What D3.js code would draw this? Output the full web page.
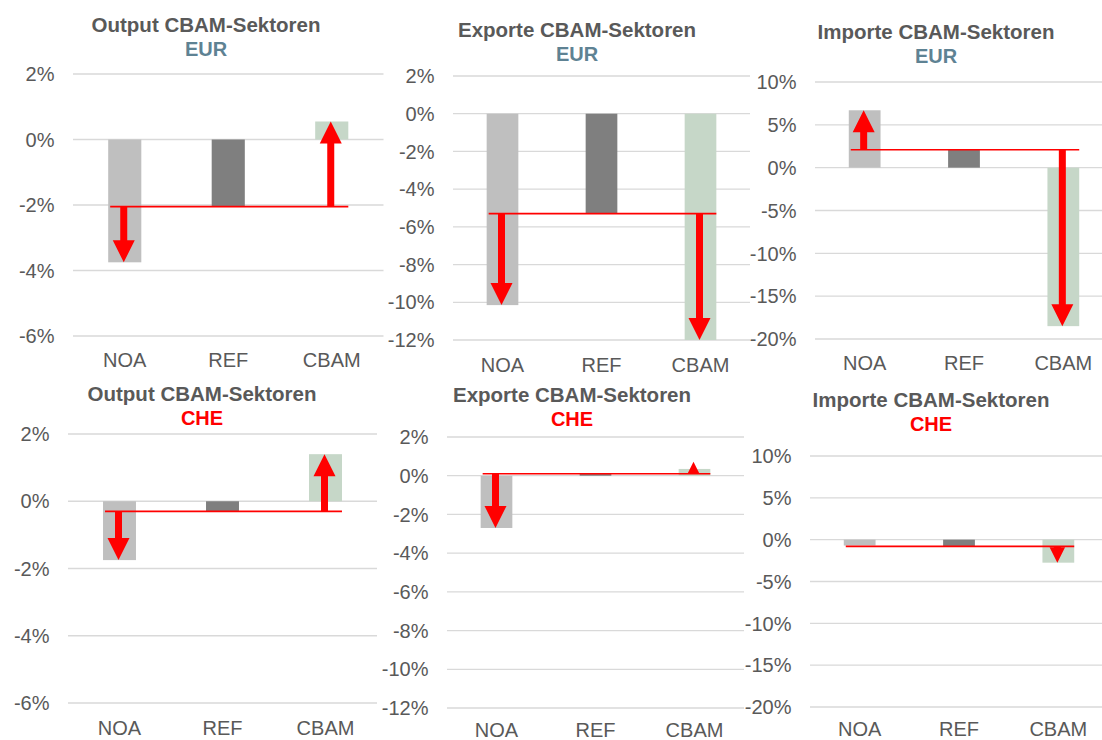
<!doctype html>
<html lang="de">
<head>
<meta charset="utf-8">
<style>
	body{margin:0;background:#fff;}
	svg{display:block;font-family:"Liberation Sans",Arial,sans-serif;}
</style>
</head>
<body>

<div id="grafico"></div>

<script src="https://d3js.org/d3.v7.min.js"></script>

<script>

// datos (en %)

var categorias = ["NOA", "REF", "CBAM"];

var outputEUR = [-3.75, -2.05, 0.55];
var exporteEUR = [-10.15, -5.3, -12.0];
var importeEUR = [6.7, 2.1, -18.5];

var outputCHE = [-1.75, -0.3, 1.4];
var exporteCHE = [-2.7, 0.1, 0.35];
var importeCHE = [-0.7, -0.8, -2.75];

var ticksOutput = [2, 0, -2, -4, -6];
var ticksExporte = [2, 0, -2, -4, -6, -8, -10, -12];
var ticksImporte = [10, 5, 0, -5, -10, -15, -20];

var titulos = ["Output CBAM-Sektoren", "Exporte CBAM-Sektoren", "Importe CBAM-Sektoren"];
var regiones = ["EUR", "CHE"];

var colorBarra = d3.scaleOrdinal().domain(categorias).range(["#bfbfbf", "#7f7f7f", "#c6d7c8"]);
var colorRegion = {EUR: "#5e8293", CHE: "#ff0000"};
var gris = "#595959";

// posicion de cada panel en la pagina
var paneles = [
	{titulo: titulos[0], region: regiones[0], valores: outputEUR,  ticks: ticksOutput,  x0: 73,  x1: 383.5, y0: 74,  y1: 336, tx: 206, ty: 32,  cy: 367},
	{titulo: titulos[1], region: regiones[0], valores: exporteEUR, ticks: ticksExporte, x0: 453, x1: 750,   y0: 76,  y1: 340, tx: 577, ty: 37,  cy: 371.5},
	{titulo: titulos[2], region: regiones[0], valores: importeEUR, ticks: ticksImporte, x0: 815, x1: 1113,  y0: 82,  y1: 339, tx: 936, ty: 39,  cy: 370},
	{titulo: titulos[0], region: regiones[1], valores: outputCHE,  ticks: ticksOutput,  x0: 68,  x1: 377,   y0: 434, y1: 703, tx: 202, ty: 401, cy: 735},
	{titulo: titulos[1], region: regiones[1], valores: exporteCHE, ticks: ticksExporte, x0: 447, x1: 744,   y0: 437, y1: 708, tx: 572, ty: 402, cy: 737},
	{titulo: titulos[2], region: regiones[1], valores: importeCHE, ticks: ticksImporte, x0: 810, x1: 1108,  y0: 456, y1: 707, tx: 931, ty: 407, cy: 736}
];

var svg = d3.select("#grafico").append("svg").attr("width", 1102).attr("height", 740);

paneles.forEach(function(p) {

	var x = d3.scaleBand().domain(categorias).range([p.x0, p.x1]).paddingInner(0.68).paddingOuter(0.34);
	var y = d3.scaleLinear().domain([d3.min(p.ticks), d3.max(p.ticks)]).range([p.y1, p.y0]);

	var g = svg.append("g");

	// lineas de grilla
	g.selectAll("line.grid").data(p.ticks).enter().append("line").attr("class", "grid")
		.attr("x1", p.x0).attr("x2", p.x1)
		.attr("y1", function(d) { return y(d); }).attr("y2", function(d) { return y(d); })
		.attr("stroke", "#d9d9d9").attr("stroke-width", 1.3);

	// etiquetas del eje y
	g.selectAll("text.tick").data(p.ticks).enter().append("text").attr("class", "tick")
		.attr("x", p.x0 - 18.5).attr("y", function(d) { return y(d); }).attr("dy", "0.36em")
		.attr("text-anchor", "end").attr("fill", gris).style("font-size", "20px")
		.text(function(d) { return d + "%"; });

	// barras
	g.selectAll("rect").data(p.valores).enter().append("rect")
		.attr("x", function(d, i) { return x(categorias[i]); })
		.attr("width", x.bandwidth())
		.attr("y", function(d) { return y(Math.max(0, d)); })
		.attr("height", function(d) { return Math.abs(y(d) - y(0)); })
		.attr("fill", function(d, i) { return colorBarra(categorias[i]); });

	// etiquetas de categoria
	g.selectAll("text.cat").data(categorias).enter().append("text").attr("class", "cat")
		.attr("x", function(d) { return x(d) + x.bandwidth() / 2; }).attr("y", p.cy)
		.attr("text-anchor", "middle").attr("fill", gris).style("font-size", "20px")
		.text(function(d) { return d; });

	// linea roja al nivel REF
	var ref = p.valores[1];
	g.append("line")
		.attr("x1", x(categorias[0]) + 2).attr("x2", x(categorias[2]) + x.bandwidth())
		.attr("y1", y(ref)).attr("y2", y(ref))
		.attr("stroke", "#ff0000").attr("stroke-width", 1.6);

	// flechas desde REF hasta NOA y CBAM (solo si hay diferencia visible)
	var conFlecha = [0, 2].filter(function(i) { return Math.abs(y(p.valores[i]) - y(ref)) > 2; });

	g.selectAll("path.flecha").data(conFlecha).enter().append("path").attr("class", "flecha")
		.attr("d", function(i) {
			var cx = x(categorias[i]) + x.bandwidth() / 2 - 1;
			var a = y(ref), b = y(p.valores[i]);
			var dir = b > a ? 1 : -1;
			var largo = Math.abs(b - a);
			var cabeza = Math.max(12, Math.min(22, largo * 0.95));
			var punta = a + dir * Math.max(largo, cabeza);
			var cuello = punta - dir * cabeza;
			return "M" + (cx - 3.5) + "," + a + "L" + (cx + 3.5) + "," + a + "L" + (cx + 3.5) + "," + cuello +
				"L" + (cx + cabeza / 2) + "," + cuello + "L" + cx + "," + punta + "L" + (cx - cabeza / 2) + "," + cuello +
				"L" + (cx - 3.5) + "," + cuello + "Z";
		})
		.attr("fill", "#ff0000");

	// titulos
	g.append("text").attr("x", p.tx).attr("y", p.ty).attr("text-anchor", "middle")
		.attr("fill", gris).style("font-size", "20.5px").style("font-weight", "bold").text(p.titulo);
	g.append("text").attr("x", p.tx).attr("y", p.ty + 23.5).attr("text-anchor", "middle")
		.attr("fill", colorRegion[p.region]).style("font-size", "20px").style("font-weight", "bold").text(p.region);
});

</script>
</body>
</html>
